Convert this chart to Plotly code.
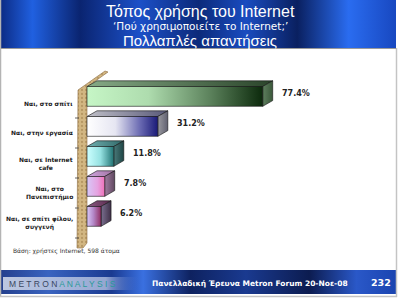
import plotly.graph_objects as go

# ---------------- data ----------------
categories = ["Ναι, στο σπίτι", "Ναι, στην εργασία", "Ναι, σε Internet<br>cafe",
              "Ναι, στο<br>Πανεπιστήμιο", "Ναι, σε σπίτι φίλου,<br>συγγενή"]
values = [77.4, 31.2, 11.8, 7.8, 6.2]
value_labels = [f"{v:.1f}%" for v in values]
title_lines = ["Τόπος χρήσης του Internet",
               "‘Πού χρησιμοποιείτε το Internet;’",
               "Πολλαπλές απαντήσεις"]
base_note = "Βάση: χρήστες Internet, 598 άτομα"
footer_text = "Πανελλαδική Έρευνα Metron Forum 20-Νοε-08"
page_number = "232"

# ---------------- styles ----------------
front_scales = [
    [[0, "#c6f6c6"], [0.35, "#aedcae"], [0.7, "#5c825c"], [1, "#0c2a0c"]],
    [[0, "#ffffff"], [0.4, "#e6e6f2"], [0.75, "#6a6ab2"], [1, "#1a1a78"]],
    [[0, "#ccffff"], [0.5, "#96e2e2"], [1, "#207272"]],
    [[0, "#d8c8f8"], [0.6, "#e6a2e0"], [1, "#f070b8"]],
    [[0, "#d8c8f8"], [0.45, "#b488c8"], [1, "#902e62"]],
]
top_scales = [
    [[0, "#86aa86"], [1, "#2a442a"]],
    [[0, "#c0c0c8"], [1, "#585878"]],
    [[0, "#70b0b0"], [1, "#306868"]],
    [[0, "#d0a8e0"], [1, "#a070a0"]],
    [[0, "#8a5a80"], [1, "#5a2a50"]],
]
side_scales = [
    [[0, "#5e7e5e"], [1, "#3a583a"]],
    [[0, "#9a9aa0"], [1, "#606070"]],
    [[0, "#4a7a7a"], [1, "#1e4444"]],
    [[0, "#a07ca0"], [1, "#604860"]],
    [[0, "#7a7090"], [1, "#403048"]],
]

W, H = 400, 299
X0PX, PX_PER_PCT = 87, 2.27
Y0PX, PX_PER_CAT = 103, 30
XR = [-X0PX / PX_PER_PCT, (W - X0PX) / PX_PER_PCT]
YR = [(H - Y0PX) / PX_PER_CAT, -Y0PX / PX_PER_CAT]


def dx(p):  # pixel x -> data x
    return (p - X0PX) / PX_PER_PCT


def dy(p):  # pixel y -> data y
    return (p - Y0PX) / PX_PER_CAT


def px(p):
    return p / W


def py(p):
    return 1 - p / H


fig = go.Figure()


def poly(xs, ys, **kw):
    fig.add_trace(go.Scatter(x=xs, y=ys, mode="lines", fill="toself",
                             hoverinfo="skip", showlegend=False, **kw))


# ---------------- banners ----------------
poly([dx(1), dx(396), dx(396), dx(1), dx(1)], [dy(0), dy(0), dy(48), dy(48), dy(0)],
     line=dict(width=0),
     fillgradient=dict(type="horizontal", colorscale=[
         [0, "#0c2c86"], [0.08, "#2060e0"], [0.2, "#0a2470"], [0.35, "#1c50c8"],
         [0.5, "#0c2a7a"], [0.62, "#1a4cc0"], [0.75, "#0a2060"], [0.88, "#2a6cf0"],
         [1, "#1848c0"]]))
poly([dx(1), dx(396), dx(396), dx(1), dx(1)], [dy(270), dy(270), dy(294), dy(294), dy(270)],
     line=dict(width=0),
     fillgradient=dict(type="horizontal", colorscale=[
         [0, "#24408e"], [0.12, "#3a64c0"], [0.28, "#1a3a90"], [0.36, "#3a70e0"],
         [0.48, "#0e2260"], [0.62, "#1a3a90"], [0.78, "#0c1c50"], [0.9, "#2a58c8"],
         [1, "#1a44b0"]]))
# lighter band behind logo
poly([dx(3), dx(140), dx(140), dx(3), dx(3)], [dy(277), dy(277), dy(290), dy(290), dy(277)],
     line=dict(width=0),
     fillgradient=dict(type="horizontal", colorscale=[
         [0, "rgba(196,206,228,0.95)"], [0.75, "rgba(170,185,220,0.85)"], [1, "rgba(60,100,200,0.0)"]]))

# ---------------- wall ----------------
wall_px = [(78, 90), (105, 71), (108, 72), (87, 87), (87, 243), (83, 248), (77, 248), (78, 90)]
poly([dx(a) for a, b in wall_px], [dy(b) for a, b in wall_px],
     line=dict(width=0.6, color="#8a6a40"),
     fillcolor="#cdb07c",
     fillpattern=dict(shape=".", bgcolor="#d2b682", fgcolor="#9a7844", size=4, solidity=0.25))

# category separator ticks on the wall
tx, ty = [], []
for i in range(len(categories)):
    tx += [dx(75), dx(79), None]
    ty += [i + 0.5, i + 0.5, None]
fig.add_trace(go.Scatter(x=tx, y=ty, mode="lines", line=dict(color="#404040", width=0.8),
                         hoverinfo="skip", showlegend=False))

# ---------------- 3D bars ----------------
shift = -0.22
half = 0.33
depth_x = 10 / PX_PER_PCT
depth_y = -0.19
edge = dict(color="#101010", width=0.6)
for i, v in enumerate(values):
    c = i + shift
    yt, yb = c - half, c + half
    # top face
    poly([0, v, v + depth_x, depth_x, 0], [yt, yt, yt + depth_y, yt + depth_y, yt],
         line=edge, fillgradient=dict(type="horizontal", colorscale=top_scales[i]))
    # side face
    poly([v, v + depth_x, v + depth_x, v, v], [yt, yt + depth_y, yb + depth_y, yb, yt],
         line=edge, fillgradient=dict(type="horizontal", colorscale=side_scales[i]))
    # front face
    poly([0, v, v, 0, 0], [yt, yt, yb, yb, yt],
         line=edge, fillgradient=dict(type="horizontal", colorscale=front_scales[i]))

# ---------------- texts ----------------
ann = []
for i, (cat, lab, v) in enumerate(zip(categories, value_labels, values)):
    ann.append(dict(x=dx(75), y=i, xref="x", yref="y", text=cat, showarrow=False,
                    xanchor="right", yanchor="middle", align="center",
                    font=dict(family="DejaVu Sans", size=6, color="#1a1a1a", weight="bold")))
    ann.append(dict(x=v + 17 / PX_PER_PCT, y=i - 0.33, xref="x", yref="y", text=lab,
                    showarrow=False, xanchor="left", yanchor="middle",
                    font=dict(family="DejaVu Sans", size=8, color="#222222", weight="bold")))

ann.append(dict(x=px(200), y=py(12), xref="paper", yref="paper", text=title_lines[0],
                showarrow=False, xanchor="center", yanchor="middle",
                font=dict(family="Liberation Sans", size=16, color="white")))
ann.append(dict(x=px(200), y=py(26), xref="paper", yref="paper", text=title_lines[1],
                showarrow=False, xanchor="center", yanchor="middle",
                font=dict(family="DejaVu Sans", size=10.5, color="white")))
ann.append(dict(x=px(200), y=py(40.5), xref="paper", yref="paper", text=title_lines[2],
                showarrow=False, xanchor="center", yanchor="middle",
                font=dict(family="Liberation Sans", size=15, color="white")))
ann.append(dict(x=px(11), y=py(251), xref="paper", yref="paper", text=base_note,
                showarrow=False, xanchor="left", yanchor="middle",
                font=dict(family="DejaVu Sans", size=6, color="#333333")))
ann.append(dict(x=px(7), y=py(283.5), xref="paper", yref="paper",
                text="M E T R O N <span style='color:#2a9a98'>A N A L Y S I S</span>",
                showarrow=False, xanchor="left", yanchor="middle",
                font=dict(family="Liberation Sans", size=8.5, color="#3a4660")))
ann.append(dict(x=px(150), y=py(283), xref="paper", yref="paper", text=footer_text,
                showarrow=False, xanchor="left", yanchor="middle",
                font=dict(family="DejaVu Sans", size=7.5, color="white", weight="bold")))
ann.append(dict(x=px(393), y=py(282), xref="paper", yref="paper", text=page_number,
                showarrow=False, xanchor="right", yanchor="middle",
                font=dict(family="DejaVu Sans", size=9.5, color="white", weight="bold")))

shapes = [
    dict(type="line", xref="paper", yref="paper", x0=px(0.5), x1=px(0.5), y0=py(0), y1=py(297),
         line=dict(color="#b4b4b4", width=1.5)),
    dict(type="line", xref="paper", yref="paper", x0=px(396.5), x1=px(396.5), y0=py(48), y1=py(297),
         line=dict(color="#c4c4c4", width=1.5)),
    dict(type="line", xref="paper", yref="paper", x0=px(0), x1=px(397), y0=py(296.5), y1=py(296.5),
         line=dict(color="#c4c4c4", width=1.5)),
    dict(type="line", xref="paper", yref="paper", x0=px(1), x1=px(396), y0=py(48.5), y1=py(48.5),
         line=dict(color="#9a9a9a", width=1)),
]

fig.update_layout(
    width=W, height=H, margin=dict(l=0, r=0, t=0, b=0),
    paper_bgcolor="white", plot_bgcolor="white",
    xaxis=dict(range=XR, visible=False, fixedrange=True, domain=[0, 1]),
    yaxis=dict(range=YR, visible=False, fixedrange=True, domain=[0, 1]),
    annotations=ann, shapes=shapes, showlegend=False,
)

fig.write_html("out.html")
